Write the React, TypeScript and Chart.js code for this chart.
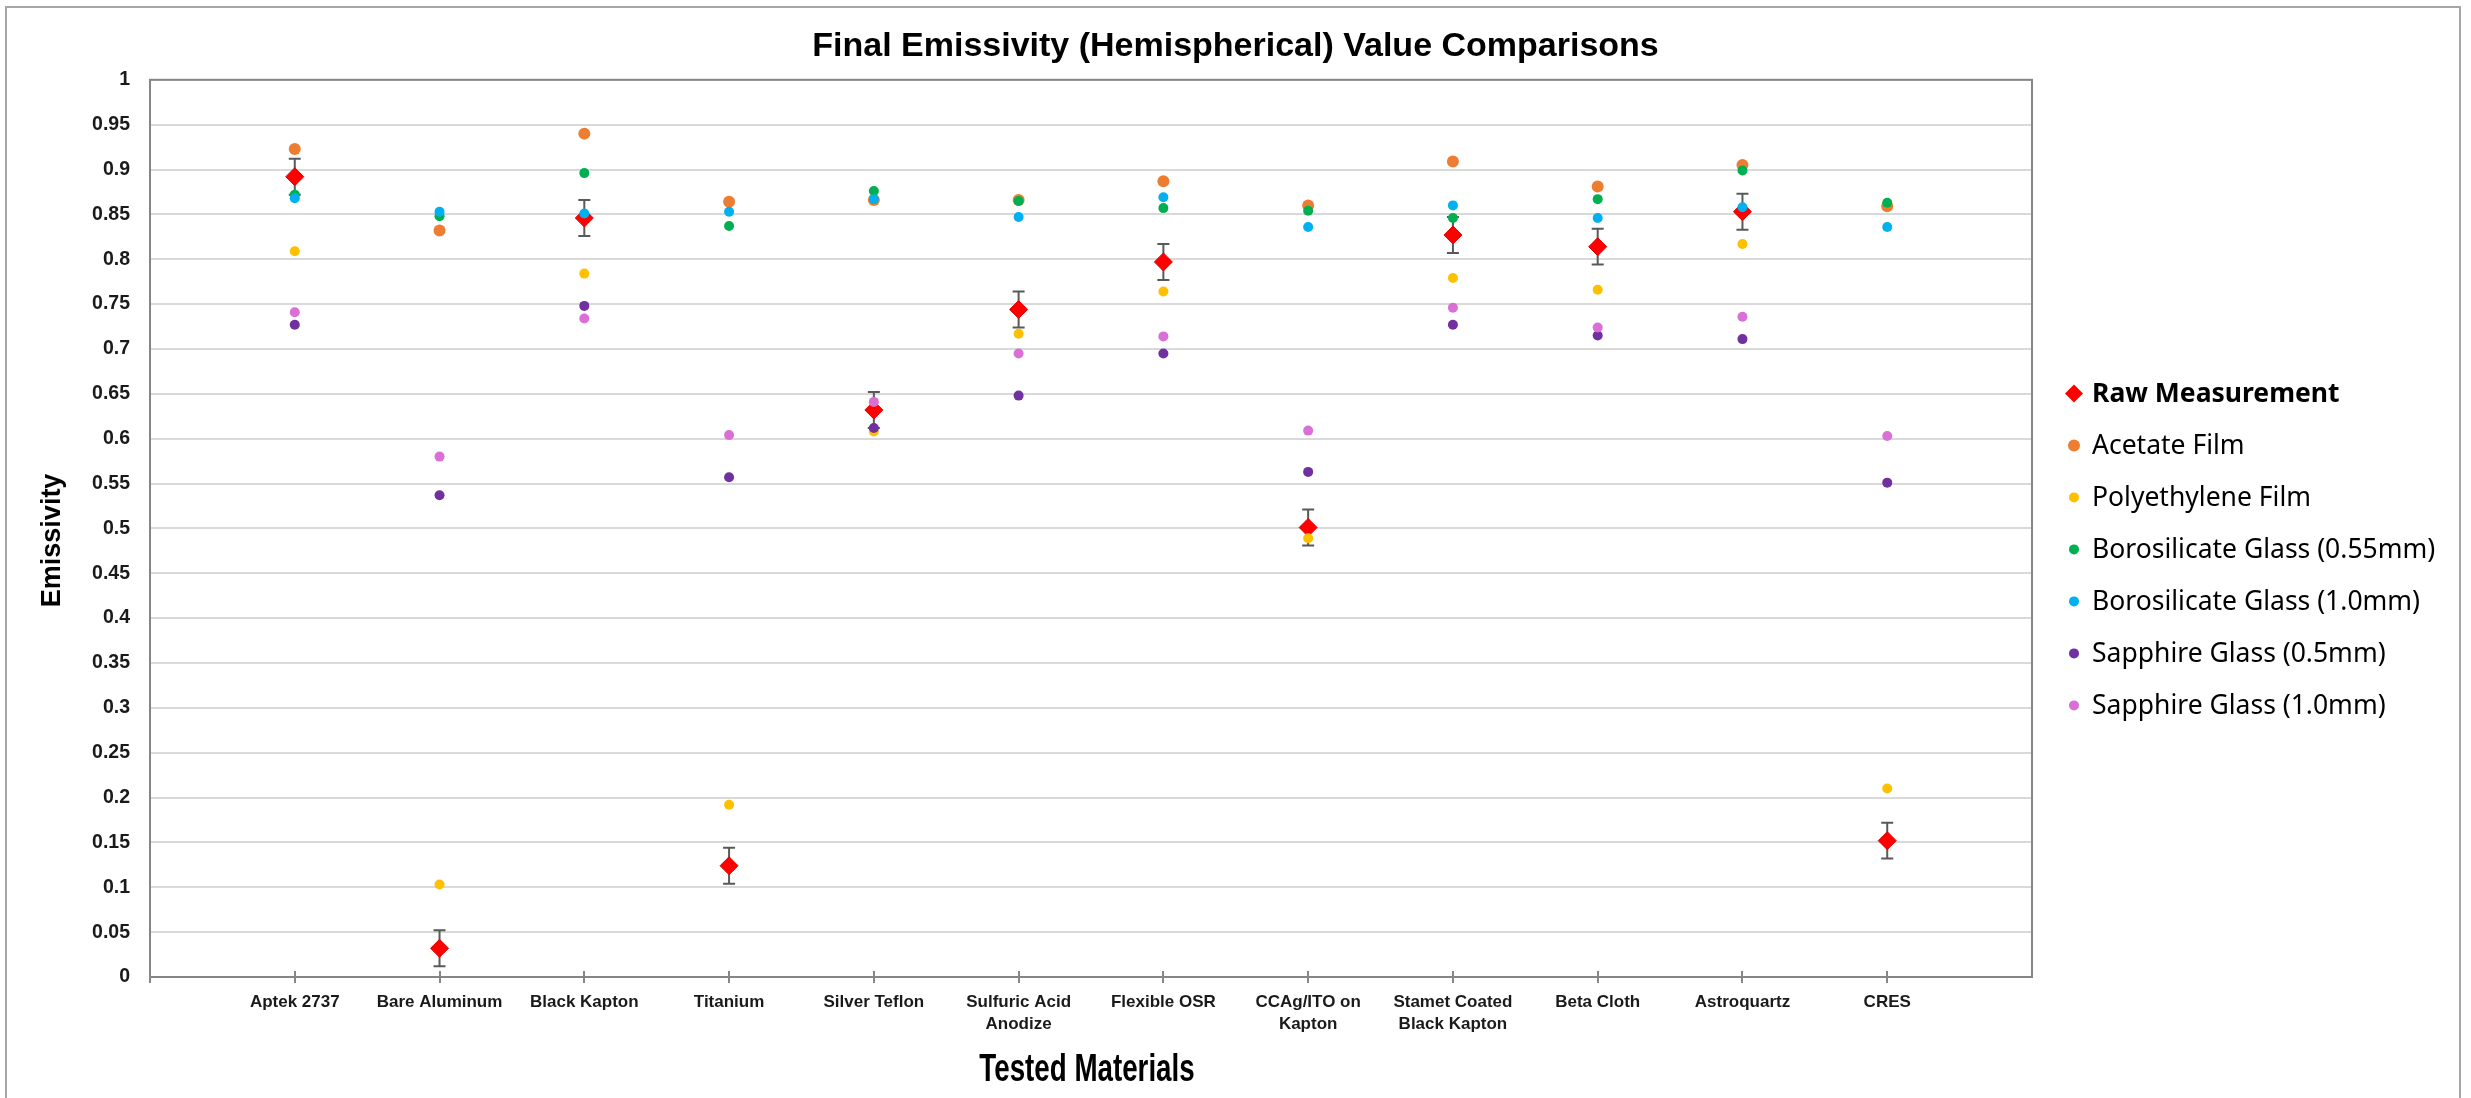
import React, { useEffect, useRef } from 'react';
import { Chart, registerables } from 'chart.js';

Chart.register(...registerables);

// ---------- data ----------
const categories: (string | string[])[] = [
  'Aptek 2737',
  'Bare Aluminum',
  'Black Kapton',
  'Titanium',
  'Silver Teflon',
  ['Sulfuric Acid', 'Anodize'],
  'Flexible OSR',
  ['CCAg/ITO on', 'Kapton'],
  ['Stamet Coated', 'Black Kapton'],
  'Beta Cloth',
  'Astroquartz',
  'CRES',
];

const rawMeasurement = [0.892, 0.032, 0.846, 0.124, 0.632, 0.744, 0.797, 0.501, 0.827, 0.814, 0.853, 0.152];
const rawError = [0.02, 0.02, 0.02, 0.02, 0.02, 0.02, 0.02, 0.02, 0.02, 0.02, 0.02, 0.02];
const acetateFilm = [0.923, 0.832, 0.94, 0.864, 0.866, 0.866, 0.887, 0.86, 0.909, 0.881, 0.905, 0.859];
const polyethyleneFilm = [0.809, 0.103, 0.784, 0.192, 0.608, 0.717, 0.764, 0.489, 0.779, 0.766, 0.817, 0.21];
const borosilicate055 = [0.872, 0.848, 0.896, 0.837, 0.876, 0.865, 0.857, 0.854, 0.846, 0.867, 0.899, 0.863];
const borosilicate10 = [0.868, 0.853, 0.851, 0.853, 0.867, 0.847, 0.869, 0.836, 0.86, 0.846, 0.858, 0.836];
const sapphire05 = [0.727, 0.537, 0.748, 0.557, 0.612, 0.648, 0.695, 0.563, 0.727, 0.715, 0.711, 0.551];
const sapphire10 = [0.741, 0.58, 0.734, 0.604, 0.641, 0.695, 0.714, 0.609, 0.746, 0.724, 0.736, 0.603];

const seriesNames = [
  'Raw Measurement',
  'Acetate Film',
  'Polyethylene Film',
  'Borosilicate Glass (0.55mm)',
  'Borosilicate Glass (1.0mm)',
  'Sapphire Glass (0.5mm)',
  'Sapphire Glass (1.0mm)',
];
const seriesValues = [
  rawMeasurement,
  acetateFilm,
  polyethyleneFilm,
  borosilicate055,
  borosilicate10,
  sapphire05,
  sapphire10,
];
const seriesColors = ['#FF0000', '#ED7D31', '#FFC000', '#00B050', '#00B0F0', '#7030A0', '#DA70D6'];
const seriesRadius = [9, 6, 5, 5, 5, 5, 5];

const chartTitle = 'Final Emissivity (Hemispherical) Value Comparisons';
const xAxisTitle = 'Tested Materials';
const yAxisTitle = 'Emissivity';
const yTickStep = 0.05;

const ARIAL = "'Liberation Sans', Arial, sans-serif";
const LEGEND_FONT = "'Noto Sans', 'Open Sans', sans-serif";

const W = 2471;
const H = 1098;

export default function App() {
  const ref = useRef<HTMLCanvasElement>(null);

  useEffect(() => {
    const canvas = ref.current;
    if (!canvas) return;

    const errorBars = {
      id: 'errorBars',
      beforeDatasetsDraw(chart: any) {
        const { ctx, scales } = chart;
        const x = scales.x;
        const y = scales.y;
        ctx.save();
        ctx.strokeStyle = '#595959';
        ctx.lineWidth = 2;
        rawMeasurement.forEach((v, i) => {
          const px = x.getPixelForValue(i + 1);
          const top = y.getPixelForValue(v + rawError[i]);
          const bot = y.getPixelForValue(v - rawError[i]);
          ctx.beginPath();
          ctx.moveTo(px, top);
          ctx.lineTo(px, bot);
          ctx.moveTo(px - 6, top);
          ctx.lineTo(px + 6, top);
          ctx.moveTo(px - 6, bot);
          ctx.lineTo(px + 6, bot);
          ctx.stroke();
        });
        ctx.restore();
      },
    };

    const frame = {
      id: 'frame',
      afterDraw(chart: any) {
        const { ctx, chartArea: a, scales } = chart;
        ctx.save();
        ctx.strokeStyle = '#868686';
        ctx.lineWidth = 2;
        ctx.strokeRect(a.left, a.top, a.right - a.left, a.bottom - a.top);
        ctx.beginPath();
        categories.forEach((_, i) => {
          const px = Math.round(scales.x.getPixelForValue(i + 1));
          ctx.moveTo(px, a.bottom - 6);
          ctx.lineTo(px, a.bottom + 6);
        });
        ctx.moveTo(a.left, a.bottom);
        ctx.lineTo(a.left, a.bottom + 6);
        ctx.stroke();
        ctx.restore();
      },
    };

    const axisTitles = {
      id: 'axisTitles',
      afterDraw(chart: any) {
        const { ctx, chartArea: a } = chart;
        ctx.save();
        ctx.fillStyle = '#000000';
        ctx.textAlign = 'center';
        ctx.textBaseline = 'middle';
        // y title
        ctx.save();
        ctx.translate(53, (a.top + a.bottom) / 2 + 12);
        ctx.rotate(-Math.PI / 2);
        ctx.font = `bold 27px ${ARIAL}`;
        ctx.fillText(yAxisTitle, 0, 0);
        ctx.restore();
        // x title (condensed)
        ctx.save();
        ctx.translate((a.left + a.right) / 2 - 4, a.bottom + 94);
        ctx.scale(0.73, 1);
        ctx.font = `bold 38px ${ARIAL}`;
        ctx.fillText(xAxisTitle, 0, 0);
        ctx.restore();
        ctx.restore();
      },
    };

    const customLegend = {
      id: 'customLegend',
      afterDraw(chart: any) {
        const { ctx, chartArea: a } = chart;
        const mx = a.right + 42;
        const tx = a.right + 60;
        const y0 = (a.top + a.bottom) / 2 - 135;
        const step = 52;
        ctx.save();
        seriesNames.forEach((name, i) => {
          const cy = y0 + i * step;
          ctx.fillStyle = seriesColors[i];
          ctx.beginPath();
          if (i === 0) {
            const r = 9;
            ctx.moveTo(mx, cy - r);
            ctx.lineTo(mx + r, cy);
            ctx.lineTo(mx, cy + r);
            ctx.lineTo(mx - r, cy);
            ctx.closePath();
          } else {
            ctx.arc(mx, cy, seriesRadius[i], 0, Math.PI * 2);
          }
          ctx.fill();
          ctx.fillStyle = '#000000';
          ctx.textBaseline = 'middle';
          ctx.textAlign = 'left';
          ctx.font = `${i === 0 ? 'bold ' : ''}26.5px ${LEGEND_FONT}`;
          ctx.fillText(name, tx, cy + 1);
        });
        ctx.restore();
      },
    };

    const datasets = seriesNames.map((name, s) => ({
      label: name,
      data: seriesValues[s].map((v, i) => ({ x: i + 1, y: v })),
      backgroundColor: seriesColors[s],
      borderColor: s === 0 ? '#E00000' : seriesColors[s],
      borderWidth: s === 0 ? 1 : 0,
      pointStyle: s === 0 ? 'rectRot' : 'circle',
      pointRadius: seriesRadius[s],
      pointHoverRadius: seriesRadius[s],
      showLine: false,
      order: seriesNames.length - s,
      yAxisID: 'y',
      xAxisID: 'x',
    }));

    const chart = new Chart(canvas, {
      type: 'scatter',
      data: { datasets },
      options: {
        responsive: false,
        animation: false,
        events: [],
        layout: { padding: { left: 0, right: 0, top: 0, bottom: 0 } },
        plugins: {
          legend: { display: false },
          tooltip: { enabled: false },
          title: {
            display: true,
            text: chartTitle,
            color: '#000000',
            font: { family: ARIAL, size: 34, weight: 'bold', lineHeight: 1.2 },
            padding: { top: 26, bottom: 13 },
          },
        },
        scales: {
          x: {
            type: 'linear',
            min: 0,
            max: categories.length + 1,
            afterBuildTicks(scale: any) {
              scale.ticks = categories.map((_, i) => ({ value: i + 1 }));
            },
            afterFit(scale: any) {
              scale.height = 121;
            },
            ticks: {
              autoSkip: false,
              maxRotation: 0,
              minRotation: 0,
              padding: 15,
              color: '#1a1a1a',
              font: { family: ARIAL, size: 17, weight: 'bold', lineHeight: 1.25 },
              callback: (value: any) => categories[Number(value) - 1] ?? '',
            },
            grid: { drawOnChartArea: false, drawTicks: false },
            border: { display: true, color: '#868686', width: 2 },
          },
          y: {
            type: 'linear',
            position: 'left',
            min: 0,
            max: 1,
            afterFit(scale: any) {
              scale.width = 150;
            },
            ticks: {
              stepSize: yTickStep,
              padding: 20,
              color: '#1a1a1a',
              font: { family: ARIAL, size: 19.5, weight: 'bold' },
              callback: (value: any) => String(Number(Number(value).toFixed(2))),
            },
            grid: { color: '#D9D9D9', lineWidth: 2, drawTicks: false },
            border: { display: true, color: '#868686', width: 2 },
          },
          legendSpace: {
            type: 'linear',
            position: 'right',
            min: 0,
            max: 1,
            afterFit(scale: any) {
              scale.width = 439;
            },
            ticks: { display: false },
            grid: { display: false, drawTicks: false },
            border: { display: false },
          },
        },
      },
      plugins: [errorBars, frame, axisTitles, customLegend],
    });

    return () => {
      chart.destroy();
    };
  }, []);

  return (
    <div
      style={{
        position: 'fixed',
        left: 0,
        top: 0,
        width: W,
        height: H,
        overflow: 'hidden',
        background: '#ffffff',
      }}
    >
      <canvas ref={ref} width={W} height={H} style={{ position: 'absolute', left: 0, top: 0, width: W, height: H }} />
      <div
        style={{
          position: 'absolute',
          left: 5,
          top: 6,
          width: 2456,
          height: 1200,
          border: '2px solid #A6A6A6',
          boxSizing: 'border-box',
          pointerEvents: 'none',
        }}
      />
    </div>
  );
}
